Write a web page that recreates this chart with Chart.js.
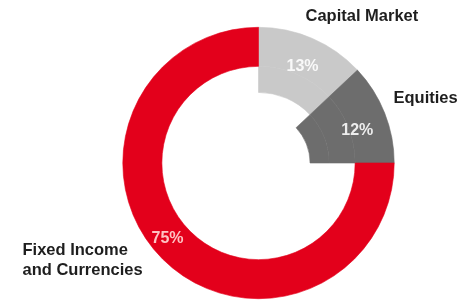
<!DOCTYPE html>
<html>
<head>
<meta charset="utf-8">
<script src="https://cdn.jsdelivr.net/npm/chart.js@4.4.1/dist/chart.umd.min.js"></script>
<style>
  html, body { margin: 0; padding: 0; background: #ffffff; }
  #wrap { position: relative; width: 458px; height: 301px; }
  canvas { position: absolute; left: 0; top: 0; }
</style>
</head>
<body>
<div id="wrap"><canvas id="c" width="458" height="301"></canvas></div>
<script>
// ---- data ----
const categories = ["Capital Market", "Equities", "Fixed Income\nand Currencies"];
const values = [13, 12, 75];
const sliceColors = ["#c9c9c9", "#6d6d6d", "#e3001b"];
// ring depth each slice reaches: 0 = outer ring only, 1 = two rings, 2 = all three rings
const sliceDepth = [1, 2, 0];

const ringWeights = [39, 26, 19];   // outer -> inner ring thickness

const datasets = ringWeights.map((w, ring) => ({
  data: values,
  weight: w,
  backgroundColor: values.map((v, i) => sliceDepth[i] >= ring ? sliceColors[i] : "rgba(0,0,0,0)"),
  borderColor: values.map((v, i) => sliceDepth[i] >= ring ? sliceColors[i] : "rgba(0,0,0,0)"),
  borderWidth: 0.6,
  hoverOffset: 0
}));

const labelPlugin = {
  id: "labels",
  afterDraw(chart) {
    const ctx = chart.ctx;
    const meta0 = chart.getDatasetMeta(0);
    const arc0 = meta0.data[0];
    const cx = arc0.x, cy = arc0.y;
    // percent labels
    ctx.save();
    ctx.textAlign = "center";
    ctx.textBaseline = "middle";
    ctx.font = "bold 16px 'Liberation Sans', Arial, sans-serif";
    const pctR = [106, 104, 118];
    const pctShift = [0.02, 0.06, 0.095]; // radians
    values.forEach((v, i) => {
      const a = meta0.data[i];
      const mid = (a.startAngle + a.endAngle) / 2 + pctShift[i];
      ctx.fillStyle = i === 2 ? "rgba(255,205,205,0.95)" : "rgba(255,255,255,0.88)";
      ctx.fillText(v + "%", cx + Math.cos(mid) * pctR[i], cy + Math.sin(mid) * pctR[i]);
    });
    // category labels
    ctx.fillStyle = "#1e1e1e";
    ctx.font = "bold 16.5px 'Liberation Sans', Arial, sans-serif";
    ctx.textAlign = "left";
    const pos = [[cx + 47, cy - 147], [cx + 135, cy - 65], [cx - 236, cy + 87]];
    categories.forEach((t, i) => {
      t.split("\n").forEach((line, k) => {
        ctx.fillText(line, pos[i][0], pos[i][1] + k * 20);
      });
    });
    ctx.restore();
  }
};

new Chart(document.getElementById("c"), {
  type: "doughnut",
  data: { labels: categories, datasets },
  options: {
    responsive: false,
    animation: false,
    cutout: "38%",
    rotation: 0,
    layout: { padding: { left: 120, right: 61, top: 27, bottom: 2 } },
    plugins: { legend: { display: false }, tooltip: { enabled: false } }
  },
  plugins: [labelPlugin]
});
</script>
</body>
</html>
